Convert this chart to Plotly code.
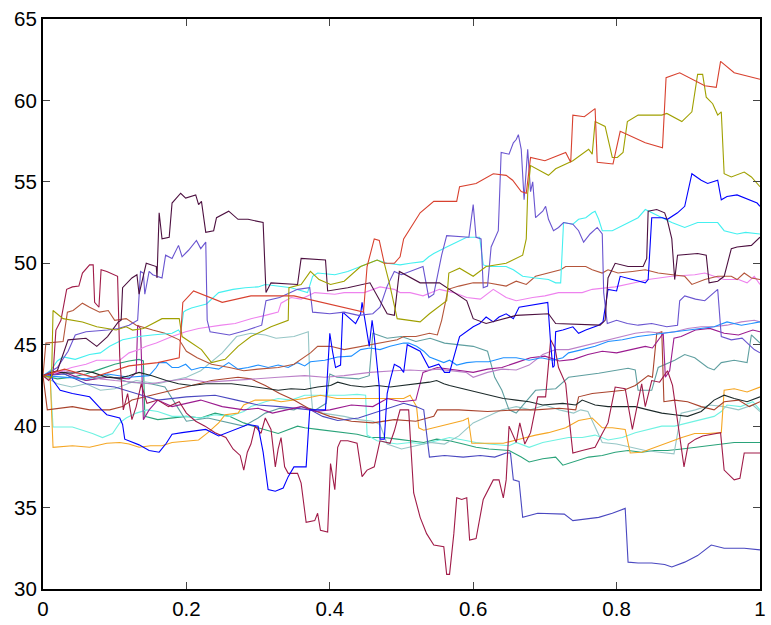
import plotly.graph_objects as go

# ---- data: each path is a list of (t, value) vertices ----
red_path = [(0,43.1),(0.03,43.5),(0.07,43.0),(0.12,43.7),(0.16,43.9),(0.19,44.2),(0.195,47.6),(0.21,48.3),(0.25,47.6),(0.29,48.0),(0.35,48.0),(0.40,47.5),(0.43,47.2),(0.447,47.0),(0.452,49.8),(0.462,51.5),(0.469,51.4),(0.476,50.0),(0.49,50.0),(0.498,50.4),(0.503,51.5),(0.526,53.1),(0.545,53.8),(0.577,53.8),(0.581,54.7),(0.604,54.9),(0.628,55.5),(0.646,55.4),(0.655,55.1),(0.667,54.4),(0.674,54.3),(0.68,56.5),(0.70,56.3),(0.729,56.8),(0.736,56.2),(0.739,59.1),(0.755,59.0),(0.770,59.5),(0.773,56.2),(0.795,56.1),(0.805,58.1),(0.84,57.4),(0.864,57.1),(0.869,61.4),(0.888,61.7),(0.923,60.9),(0.939,60.8),(0.945,62.4),(0.964,61.7),(1.0,61.3)]

olive_path = [(0,43.1),(0.012,43.0),(0.014,47.1),(0.028,46.6),(0.055,46.4),(0.075,46.1),(0.102,45.9),(0.116,46.1),(0.125,45.9),(0.14,46.0),(0.166,46.6),(0.19,46.6),(0.194,45.5),(0.221,44.7),(0.235,43.9),(0.254,44.1),(0.272,44.9),(0.29,45.5),(0.318,46.1),(0.342,46.5),(0.343,48.5),(0.36,48.7),(0.373,49.5),(0.385,49.0),(0.401,48.7),(0.42,48.9),(0.443,49.8),(0.466,50.2),(0.476,50.0),(0.483,48.8),(0.49,47.4),(0.494,46.6),(0.526,46.4),(0.539,46.9),(0.563,47.7),(0.566,49.4),(0.581,49.7),(0.600,49.2),(0.618,49.8),(0.646,50.0),(0.669,50.5),(0.674,51.5),(0.676,54.3),(0.680,56.0),(0.705,55.4),(0.715,55.8),(0.739,56.3),(0.761,57.0),(0.766,56.7),(0.770,58.7),(0.784,58.4),(0.794,56.5),(0.801,56.5),(0.809,56.8),(0.815,58.7),(0.830,59.1),(0.863,59.1),(0.870,59.2),(0.891,58.7),(0.905,59.3),(0.913,61.6),(0.920,61.6),(0.925,60.2),(0.934,59.8),(0.941,59.1),(0.946,59.3),(0.950,55.5),(0.960,55.3),(0.978,55.6),(0.988,55.3),(1.0,54.7)]

plum_path = [(0,43.1),(0.02,43.4),(0.035,45.3),(0.06,45.4),(0.075,44.9),(0.09,45.5),(0.105,46.4),(0.109,46.5),(0.111,48.5),(0.124,49.1),(0.131,49.3),(0.134,48.1),(0.144,50.0),(0.158,49.8),(0.159,49.1),(0.162,53.1),(0.166,51.5),(0.176,51.6),(0.180,53.7),(0.192,54.3),(0.199,54.0),(0.213,54.2),(0.217,53.6),(0.221,53.8),(0.227,51.9),(0.238,52.0),(0.242,52.8),(0.259,53.2),(0.272,52.7),(0.286,52.7),(0.307,52.5),(0.311,48.2),(0.318,48.8),(0.355,48.7),(0.360,50.3),(0.394,50.2),(0.397,48.3),(0.425,48.5),(0.456,48.8),(0.480,46.9),(0.490,46.8),(0.497,49.5),(0.526,48.8),(0.553,48.8),(0.591,47.7),(0.600,46.6),(0.618,46.3),(0.660,46.8),(0.705,46.9),(0.715,46.3),(0.777,46.2),(0.784,46.5),(0.788,49.1),(0.798,50.0),(0.816,49.8),(0.837,49.8),(0.842,50.3),(0.844,53.2),(0.856,53.3),(0.867,53.1),(0.871,52.6),(0.877,51.5),(0.881,49.0),(0.885,50.5),(0.913,50.6),(0.925,50.5),(0.929,48.8),(0.941,48.9),(0.950,49.2),(0.960,50.9),(0.968,51.0),(0.988,51.1),(1.0,51.6)]

slate_path = [(0,43.1),(0.02,43.6),(0.035,44.6),(0.045,45.6),(0.06,45.8),(0.09,45.9),(0.105,46.0),(0.12,46.2),(0.132,46.5),(0.136,49.5),(0.14,49.4),(0.142,48.1),(0.148,49.5),(0.153,49.3),(0.166,49.1),(0.171,50.5),(0.180,50.3),(0.189,51.1),(0.194,50.4),(0.203,50.8),(0.214,51.4),(0.220,50.9),(0.227,51.3),(0.229,46.5),(0.233,45.8),(0.26,45.6),(0.285,45.9),(0.305,46.2),(0.311,47.7),(0.33,47.9),(0.355,48.4),(0.372,48.5),(0.376,47.0),(0.40,46.9),(0.42,47.0),(0.44,46.8),(0.46,46.9),(0.47,47.3),(0.48,48.6),(0.49,49.5),(0.50,49.3),(0.53,49.8),(0.538,47.9),(0.545,48.1),(0.556,50.5),(0.563,51.7),(0.594,51.6),(0.600,53.6),(0.604,51.6),(0.611,51.5),(0.614,48.5),(0.620,48.6),(0.625,51.0),(0.635,52.0),(0.639,56.8),(0.650,56.7),(0.656,57.4),(0.660,57.6),(0.663,57.9),(0.667,57.0),(0.671,53.9),(0.676,57.0),(0.680,54.4),(0.683,55.0),(0.687,52.8),(0.697,53.2),(0.701,53.5),(0.705,52.7),(0.712,52.0),(0.719,52.2),(0.726,52.5),(0.739,52.4),(0.747,52.0),(0.754,51.3),(0.763,51.8),(0.773,52.2),(0.780,51.8),(0.782,48.2),(0.787,46.3),(0.80,46.5),(0.815,46.3),(0.830,46.2),(0.849,46.3),(0.87,46.1),(0.885,46.2),(0.888,47.7),(0.895,48.0),(0.910,47.8),(0.923,47.7),(0.934,48.1),(0.941,48.4),(0.946,45.5),(0.960,45.3),(0.975,45.4),(0.992,44.7),(1.0,44.5)]

blue_path = [(0,43.1),(0.01,43.2),(0.014,42.8),(0.024,42.2),(0.041,42.0),(0.065,41.8),(0.082,41.0),(0.089,40.7),(0.107,40.5),(0.111,40.1),(0.114,39.2),(0.134,38.85),(0.148,38.5),(0.162,38.4),(0.172,38.95),(0.180,39.5),(0.194,39.6),(0.227,39.8),(0.245,39.4),(0.268,39.8),(0.286,40.1),(0.30,40.0),(0.307,38.4),(0.314,36.1),(0.324,36.0),(0.335,36.2),(0.342,36.9),(0.35,37.5),(0.367,37.5),(0.372,41.0),(0.394,41.0),(0.397,43.4),(0.400,45.7),(0.404,44.55),(0.408,43.6),(0.415,43.75),(0.418,47.0),(0.436,46.3),(0.443,46.9),(0.445,47.6),(0.448,46.8),(0.450,46.5),(0.455,44.9),(0.459,46.5),(0.462,45.5),(0.469,42.4),(0.470,39.2),(0.476,39.2),(0.480,42.0),(0.484,42.8),(0.490,43.8),(0.498,43.6),(0.503,43.3),(0.508,45.0),(0.526,44.6),(0.538,43.6),(0.552,43.8),(0.560,43.3),(0.567,43.3),(0.581,45.5),(0.591,45.8),(0.600,46.1),(0.609,46.3),(0.618,46.7),(0.628,46.4),(0.636,46.7),(0.646,46.9),(0.656,46.6),(0.664,47.3),(0.692,47.5),(0.704,47.6),(0.708,45.1),(0.711,43.6),(0.713,43.7),(0.715,45.8),(0.725,45.9),(0.739,46.1),(0.747,45.7),(0.757,45.9),(0.775,46.2),(0.781,46.4),(0.788,48.4),(0.80,48.3),(0.805,49.2),(0.822,49.0),(0.840,48.8),(0.844,49.0),(0.849,52.8),(0.864,52.8),(0.871,52.7),(0.885,53.1),(0.895,53.5),(0.905,55.5),(0.918,55.1),(0.927,54.9),(0.941,55.1),(0.946,53.9),(0.954,54.1),(0.968,54.2),(0.996,53.7),(1.0,53.5)]

cyan_path = [(0,43.1),(0.01,43.4),(0.02,44.0),(0.028,44.25),(0.045,44.1),(0.065,44.4),(0.08,44.5),(0.093,44.9),(0.111,45.3),(0.134,45.5),(0.152,45.6),(0.180,45.7),(0.189,45.9),(0.192,45.7),(0.196,47.0),(0.199,47.1),(0.207,47.25),(0.228,47.5),(0.245,48.2),(0.265,48.4),(0.282,48.5),(0.300,48.55),(0.310,48.7),(0.33,48.6),(0.346,48.5),(0.369,48.2),(0.376,49.2),(0.383,49.4),(0.407,49.3),(0.425,49.5),(0.443,49.8),(0.466,50.2),(0.480,50.0),(0.498,49.9),(0.512,50.0),(0.53,50.1),(0.538,50.4),(0.545,50.6),(0.563,51.0),(0.577,51.3),(0.591,51.6),(0.609,51.6),(0.614,49.9),(0.622,49.8),(0.636,49.8),(0.646,49.8),(0.656,49.6),(0.669,49.2),(0.687,49.1),(0.705,49.0),(0.715,48.8),(0.722,48.8),(0.726,52.5),(0.739,52.4),(0.747,52.7),(0.757,52.8),(0.766,53.1),(0.770,53.2),(0.775,52.7),(0.780,52.0),(0.794,52.0),(0.816,52.5),(0.830,52.8),(0.840,53.3),(0.849,53.1),(0.863,52.8),(0.877,52.5),(0.895,52.2),(0.913,52.5),(0.941,52.5),(0.950,52.0),(0.968,51.8),(0.98,51.9),(1.0,51.8)]

pink_path = [(0,43.1),(0.02,43.3),(0.04,43.6),(0.06,43.8),(0.075,44.05),(0.107,44.05),(0.120,44.5),(0.134,44.7),(0.144,44.9),(0.158,45.1),(0.18,45.5),(0.199,45.8),(0.217,46.0),(0.231,46.1),(0.249,46.2),(0.268,46.3),(0.290,46.6),(0.310,46.8),(0.328,47.0),(0.332,47.55),(0.346,47.9),(0.36,47.8),(0.379,48.2),(0.407,48.1),(0.420,48.2),(0.448,48.2),(0.470,48.55),(0.49,48.4),(0.498,48.2),(0.512,48.2),(0.53,48.0),(0.553,48.4),(0.573,48.2),(0.591,47.9),(0.61,47.8),(0.628,48.4),(0.646,47.9),(0.66,47.7),(0.683,47.9),(0.70,48.0),(0.719,48.2),(0.752,48.2),(0.766,48.4),(0.798,48.55),(0.816,48.7),(0.830,48.85),(0.844,49.0),(0.863,49.1),(0.877,49.2),(0.909,49.3),(0.923,49.4),(0.936,49.2),(0.950,49.0),(0.97,49.0),(0.982,48.8),(0.992,49.2),(1.0,48.7)]

brown_path = [(0,43.1),(0.004,45.1),(0.028,45.2),(0.034,47.0),(0.042,47.1),(0.055,47.55),(0.065,47.3),(0.079,47.0),(0.091,47.1),(0.1,46.5),(0.116,46.6),(0.13,46.2),(0.153,45.9),(0.17,45.7),(0.19,45.3),(0.2,44.6),(0.215,44.2),(0.235,43.8),(0.26,43.6),(0.28,43.4),(0.30,43.5),(0.328,43.6),(0.35,43.8),(0.373,44.5),(0.383,44.9),(0.401,44.9),(0.42,44.7),(0.443,44.9),(0.466,45.1),(0.494,45.3),(0.503,45.5),(0.52,45.5),(0.539,45.7),(0.55,45.6),(0.556,46.5),(0.565,48.4),(0.58,48.6),(0.60,48.8),(0.62,48.8),(0.646,48.6),(0.660,48.9),(0.674,48.7),(0.687,49.2),(0.705,49.4),(0.722,49.6),(0.729,49.8),(0.757,49.8),(0.766,49.6),(0.780,49.4),(0.788,49.6),(0.802,49.4),(0.822,49.5),(0.840,49.6),(0.858,49.4),(0.877,49.3),(0.895,49.2),(0.905,48.7),(0.923,49.0),(0.941,49.2),(0.960,49.2),(0.968,49.0),(0.978,49.4),(0.988,49.1),(1.0,49.0)]

dodger_path = [(0,43.1),(0.03,43.0),(0.06,42.9),(0.09,43.2),(0.12,43.0),(0.148,43.1),(0.158,43.6),(0.162,43.9),(0.172,43.9),(0.180,43.6),(0.189,43.6),(0.199,43.8),(0.207,43.45),(0.22,43.6),(0.231,43.6),(0.245,43.5),(0.259,43.9),(0.272,43.5),(0.286,43.6),(0.300,43.75),(0.314,43.6),(0.328,43.75),(0.342,43.6),(0.355,43.9),(0.365,43.7),(0.373,43.95),(0.393,44.05),(0.411,44.25),(0.43,44.3),(0.443,44.7),(0.456,44.8),(0.47,44.7),(0.484,44.9),(0.503,45.1),(0.51,45.1),(0.521,44.9),(0.531,44.6),(0.539,44.25),(0.549,44.05),(0.559,43.9),(0.567,44.05),(0.577,43.75),(0.591,43.9),(0.604,43.95),(0.622,43.95),(0.642,44.2),(0.660,44.2),(0.678,44.05),(0.695,44.2),(0.711,44.05),(0.725,44.2),(0.733,44.5),(0.752,44.7),(0.770,44.9),(0.788,45.2),(0.808,45.3),(0.830,45.5),(0.849,45.6),(0.863,45.7),(0.881,45.8),(0.899,45.9),(0.918,46.0),(0.936,46.1),(0.954,46.4),(0.974,46.2),(0.988,46.3),(1.0,46.4)]

orchid_path = [(0,43.1),(0.03,43.4),(0.05,43.2),(0.08,42.9),(0.1,42.8),(0.13,42.7),(0.15,42.6),(0.18,42.8),(0.2,42.9),(0.23,42.7),(0.26,42.8),(0.3,42.9),(0.328,43.0),(0.365,43.1),(0.393,43.0),(0.42,43.1),(0.456,43.3),(0.49,43.4),(0.512,43.45),(0.53,43.4),(0.55,43.5),(0.59,43.3),(0.6,43.0),(0.62,43.3),(0.64,43.5),(0.66,43.45),(0.678,43.75),(0.697,44.4),(0.715,44.7),(0.733,44.7),(0.752,44.9),(0.770,45.1),(0.788,45.3),(0.808,45.5),(0.826,45.7),(0.844,45.8),(0.863,45.7),(0.881,45.8),(0.899,46.0),(0.918,46.1),(0.936,46.1),(0.954,46.2),(0.974,46.4),(0.992,46.5),(1.0,46.4)]

magenta_path = [(0,43.1),(0.03,43.3),(0.06,42.8),(0.09,43.0),(0.12,42.9),(0.13,43.3),(0.132,46.2),(0.136,46.0),(0.14,40.4),(0.148,41.0),(0.16,41.6),(0.18,41.2),(0.2,41.4),(0.22,41.6),(0.25,41.2),(0.28,41.0),(0.3,41.1),(0.32,40.8),(0.34,41.0),(0.36,41.2),(0.38,40.9),(0.40,41.0),(0.43,41.3),(0.46,41.2),(0.48,41.7),(0.5,41.5),(0.52,41.6),(0.53,43.3),(0.55,43.6),(0.58,43.4),(0.60,43.3),(0.62,43.5),(0.64,43.6),(0.66,43.9),(0.68,44.2),(0.70,44.3),(0.72,44.0),(0.74,44.1),(0.76,44.4),(0.78,44.6),(0.80,44.5),(0.82,44.7),(0.84,44.9),(0.85,44.8),(0.858,45.3),(0.865,45.7),(0.868,43.0),(0.874,43.4),(0.88,45.4),(0.89,45.5),(0.91,45.9),(0.93,46.0),(0.95,45.7),(0.97,45.6),(0.99,45.9),(1.0,45.8)]

cadet_path = [(0,43.1),(0.02,43.4),(0.04,43.0),(0.06,42.8),(0.09,43.1),(0.12,42.7),(0.15,42.6),(0.17,42.4),(0.19,41.0),(0.2,40.3),(0.23,40.5),(0.26,40.2),(0.28,40.0),(0.30,40.5),(0.31,40.8),(0.33,41.1),(0.35,41.0),(0.36,41.2),(0.38,41.0),(0.395,41.4),(0.40,43.2),(0.41,43.0),(0.44,42.9),(0.455,43.1),(0.46,45.7),(0.48,45.4),(0.50,45.5),(0.52,45.2),(0.54,45.4),(0.56,45.1),(0.58,45.0),(0.60,44.9),(0.62,44.6),(0.63,43.0),(0.64,42.2),(0.65,41.0),(0.66,40.8),(0.687,42.2),(0.715,42.3),(0.733,43.0),(0.775,43.25),(0.816,43.55),(0.826,43.45),(0.830,42.2),(0.849,42.2),(0.858,43.6),(0.881,44.05),(0.895,44.4),(0.909,44.2),(0.927,43.6),(0.936,43.45),(0.946,43.9),(0.964,44.05),(0.982,43.9),(0.988,45.6),(1.0,45.1)]

lightcadet_path = [(0,43.1),(0.02,42.6),(0.04,42.4),(0.06,42.6),(0.08,42.2),(0.1,42.3),(0.13,42.8),(0.16,42.6),(0.2,43.0),(0.22,43.4),(0.25,44.5),(0.27,45.5),(0.29,45.7),(0.31,45.6),(0.325,45.4),(0.35,45.5),(0.37,45.8),(0.372,43.0),(0.376,41.0),(0.39,40.8),(0.42,40.6),(0.44,40.4),(0.46,40.3),(0.47,40.1),(0.48,38.9),(0.50,38.6),(0.52,38.8),(0.54,39.0),(0.56,38.9),(0.58,39.4),(0.60,40.2),(0.62,40.6),(0.64,41.0),(0.66,41.2),(0.68,41.0),(0.70,41.3),(0.72,41.0),(0.74,40.8),(0.75,41.0),(0.76,40.9),(0.78,39.0),(0.80,38.9),(0.82,38.7),(0.84,38.5),(0.86,38.4),(0.88,38.3),(0.89,40.8),(0.91,41.0),(0.93,41.3),(0.95,41.2),(0.97,41.0),(0.99,41.3),(1.0,40.9)]

orange_path = [(0,43.1),(0.01,43.0),(0.014,38.7),(0.041,38.8),(0.065,38.7),(0.089,38.95),(0.107,39.0),(0.12,38.9),(0.134,38.7),(0.15,38.8),(0.166,38.8),(0.180,39.0),(0.217,39.15),(0.23,39.6),(0.245,40.2),(0.254,40.7),(0.272,40.8),(0.28,41.3),(0.296,41.6),(0.32,41.6),(0.332,41.5),(0.365,41.7),(0.387,41.9),(0.41,41.7),(0.448,41.7),(0.476,41.7),(0.503,41.7),(0.512,41.9),(0.521,41.2),(0.524,39.9),(0.531,39.75),(0.545,39.9),(0.559,40.05),(0.573,40.2),(0.586,40.35),(0.593,40.5),(0.598,38.95),(0.614,38.95),(0.642,38.95),(0.660,39.15),(0.687,39.45),(0.705,39.6),(0.729,39.9),(0.747,40.35),(0.766,40.5),(0.780,39.9),(0.794,39.9),(0.812,39.8),(0.819,38.35),(0.835,38.4),(0.853,38.7),(0.871,39.0),(0.891,39.3),(0.909,39.55),(0.927,39.55),(0.946,39.6),(0.950,42.2),(0.964,42.3),(0.982,42.1),(1.0,42.4)]

black_path = [(0,43.1),(0.012,43.3),(0.024,43.3),(0.041,43.25),(0.055,43.4),(0.069,43.3),(0.089,43.0),(0.107,42.95),(0.12,43.1),(0.134,43.3),(0.152,43.1),(0.172,42.8),(0.189,42.6),(0.207,42.5),(0.227,42.6),(0.245,42.6),(0.263,42.6),(0.282,42.5),(0.300,42.4),(0.328,42.2),(0.346,42.3),(0.365,42.25),(0.383,42.4),(0.401,42.5),(0.411,42.7),(0.429,42.5),(0.448,42.4),(0.466,42.5),(0.484,42.4),(0.503,42.5),(0.521,42.6),(0.539,42.7),(0.549,42.8),(0.559,42.6),(0.567,42.5),(0.586,42.3),(0.604,42.1),(0.622,41.9),(0.642,41.7),(0.660,41.6),(0.678,41.5),(0.697,41.3),(0.725,41.4),(0.743,41.3),(0.752,41.6),(0.770,41.3),(0.788,41.2),(0.808,41.2),(0.826,41.2),(0.844,41.0),(0.863,40.8),(0.881,40.7),(0.899,40.6),(0.918,40.9),(0.936,41.6),(0.950,41.9),(0.964,41.7),(0.982,41.5),(1.0,41.8)]

sienna_path = [(0,43.1),(0.006,41.0),(0.041,41.2),(0.065,41.0),(0.093,41.0),(0.111,41.2),(0.124,41.6),(0.144,41.8),(0.162,42.0),(0.18,42.2),(0.199,42.4),(0.235,42.8),(0.272,43.0),(0.29,42.9),(0.31,42.5),(0.33,42.0),(0.35,41.6),(0.37,41.1),(0.40,40.6),(0.43,40.3),(0.46,40.2),(0.49,40.4),(0.52,40.3),(0.545,40.6),(0.55,41.0),(0.58,41.0),(0.62,40.9),(0.66,41.0),(0.687,41.0),(0.72,41.1),(0.743,41.0),(0.747,41.8),(0.766,42.0),(0.788,42.1),(0.81,42.2),(0.826,42.5),(0.844,43.1),(0.85,43.0),(0.856,45.7),(0.863,45.8),(0.866,41.5),(0.881,41.6),(0.899,41.5),(0.918,41.2),(0.936,41.0),(0.95,41.5),(0.97,41.6),(0.985,41.2),(1.0,41.5)]

crimson_path = [(0,43.1),(0.008,42.8),(0.014,43.2),(0.018,45.9),(0.025,46.5),(0.033,48.4),(0.041,48.55),(0.05,48.6),(0.055,49.4),(0.065,49.9),(0.07,49.9),(0.072,47.6),(0.078,47.3),(0.081,49.6),(0.089,49.5),(0.1,49.3),(0.104,49.2),(0.107,44.3),(0.112,41.0),(0.118,42.0),(0.124,40.4),(0.13,41.2),(0.137,42.6),(0.145,41.4),(0.16,41.6),(0.175,41.2),(0.19,41.5),(0.2,40.8),(0.213,40.3),(0.226,40.0),(0.24,39.6),(0.255,39.3),(0.265,38.6),(0.275,38.2),(0.28,37.3),(0.285,38.4),(0.29,38.9),(0.296,40.0),(0.304,39.55),(0.31,40.5),(0.318,39.8),(0.324,37.5),(0.328,38.6),(0.332,39.3),(0.337,37.5),(0.342,37.1),(0.355,37.1),(0.360,36.5),(0.367,34.1),(0.379,34.2),(0.383,34.65),(0.387,33.6),(0.397,33.5),(0.401,37.7),(0.407,36.1),(0.411,38.7),(0.415,39.1),(0.425,39.1),(0.438,38.95),(0.445,36.9),(0.452,37.3),(0.462,37.5),(0.470,39.1),(0.484,38.95),(0.49,39.7),(0.498,41.0),(0.51,41.0),(0.513,38.8),(0.517,35.9),(0.526,34.4),(0.535,33.4),(0.545,32.7),(0.559,32.6),(0.563,30.9),(0.567,30.9),(0.573,33.4),(0.577,35.6),(0.584,35.5),(0.591,35.6),(0.595,33.0),(0.604,33.1),(0.614,35.5),(0.628,36.7),(0.636,36.7),(0.642,35.6),(0.646,36.7),(0.650,40.0),(0.66,39.0),(0.665,40.2),(0.672,38.9),(0.68,39.6),(0.69,41.8),(0.701,41.8),(0.708,45.3),(0.714,44.8),(0.719,43.6),(0.729,42.6),(0.733,40.8),(0.739,38.35),(0.752,38.5),(0.770,38.7),(0.780,39.55),(0.788,40.2),(0.798,42.4),(0.812,42.3),(0.822,39.8),(0.835,42.6),(0.840,41.2),(0.849,42.8),(0.86,42.7),(0.871,43.4),(0.878,42.5),(0.885,40.3),(0.891,38.7),(0.894,37.5),(0.90,38.9),(0.91,39.2),(0.92,39.4),(0.936,39.55),(0.945,39.6),(0.95,37.3),(0.964,36.7),(0.972,36.8),(0.978,38.35),(1.0,38.35)]

slate2_path = [(0,43.1),(0.03,43.2),(0.06,42.6),(0.1,42.4),(0.13,42.0),(0.16,41.6),(0.2,41.8),(0.24,41.9),(0.27,41.6),(0.3,41.3),(0.33,41.2),(0.373,41.0),(0.39,40.6),(0.411,40.35),(0.44,40.5),(0.476,41.0),(0.503,41.4),(0.52,41.2),(0.531,41.0),(0.539,38.1),(0.56,38.2),(0.586,38.1),(0.61,38.2),(0.63,38.1),(0.646,38.35),(0.652,38.35),(0.656,36.7),(0.664,36.6),(0.669,34.4),(0.69,34.65),(0.727,34.6),(0.739,34.2),(0.757,34.3),(0.775,34.4),(0.794,34.65),(0.805,34.85),(0.812,34.95),(0.816,31.65),(0.830,31.6),(0.849,31.6),(0.867,31.5),(0.877,31.35),(0.895,31.65),(0.913,32.05),(0.932,32.7),(0.950,32.5),(0.978,32.5),(1.0,32.4)]

green_path = [(0,43.1),(0.02,42.9),(0.04,43.0),(0.06,43.2),(0.08,43.5),(0.1,43.8),(0.12,44.0),(0.134,44.1),(0.14,44.0),(0.142,40.6),(0.16,40.4),(0.18,40.5),(0.2,40.6),(0.22,40.5),(0.24,40.8),(0.26,40.6),(0.28,40.2),(0.30,39.9),(0.328,39.55),(0.355,40.0),(0.365,39.9),(0.383,39.8),(0.401,39.7),(0.420,39.6),(0.438,39.5),(0.456,39.3),(0.476,39.3),(0.494,39.2),(0.512,39.1),(0.531,39.0),(0.549,39.2),(0.567,39.1),(0.586,38.9),(0.604,38.7),(0.622,38.6),(0.650,38.5),(0.667,38.1),(0.678,37.8),(0.697,38.0),(0.715,38.1),(0.725,37.6),(0.743,37.85),(0.761,38.1),(0.780,38.2),(0.798,38.4),(0.816,38.5),(0.835,38.4),(0.853,38.5),(0.871,38.5),(0.891,38.6),(0.909,38.7),(0.927,38.8),(0.946,38.9),(0.964,39.0),(0.982,39.0),(1.0,39.0)]

aqua_path = [(0,43.1),(0.01,43.0),(0.014,39.95),(0.041,39.95),(0.055,39.75),(0.069,39.55),(0.083,39.3),(0.097,39.55),(0.107,40.2),(0.116,40.5),(0.13,40.8),(0.145,41.0),(0.16,40.9),(0.18,40.6),(0.2,40.6),(0.22,40.5),(0.24,40.7),(0.26,40.6),(0.28,40.9),(0.29,41.2),(0.31,41.5),(0.328,41.7),(0.346,41.6),(0.365,41.9),(0.393,41.9),(0.420,41.9),(0.438,41.95),(0.450,41.9),(0.452,39.45),(0.466,39.1),(0.48,39.0),(0.494,38.9),(0.512,39.0),(0.531,38.9),(0.549,39.1),(0.567,39.3),(0.586,39.15),(0.604,39.0),(0.622,38.9),(0.650,38.8),(0.660,39.0),(0.678,38.7),(0.697,39.0),(0.715,39.15),(0.733,39.3),(0.752,39.3),(0.770,39.45),(0.788,39.15),(0.808,39.3),(0.826,39.6),(0.844,39.8),(0.863,40.0),(0.881,40.0),(0.899,40.2),(0.918,40.4),(0.936,40.6),(0.946,40.9),(0.954,41.3),(0.973,41.2),(0.99,41.5),(1.0,41.0)]

x_tick_vals = [0, 0.2, 0.4, 0.6, 0.8, 1]
x_tick_text = ["0", "0.2", "0.4", "0.6", "0.8", "1"]
y_tick_vals = [30, 35, 40, 45, 50, 55, 60, 65]

# ---- styles ----
series = [
    (green_path, "#2aa37a"),
    (aqua_path, "#6ff2e2"),
    (lightcadet_path, "#96c6c6"),
    (cadet_path, "#5f9fa0"),
    (orange_path, "#f5a623"),
    (sienna_path, "#a9432c"),
    (slate2_path, "#4a48c0"),
    (magenta_path, "#9b1b8f"),
    (orchid_path, "#bb80c8"),
    (dodger_path, "#1e90ff"),
    (black_path, "#1c2a2a"),
    (pink_path, "#ee82ee"),
    (brown_path, "#b4553a"),
    (cyan_path, "#44f0f0"),
    (crimson_path, "#a01b48"),
    (blue_path, "#0000ff"),
    (slate_path, "#6a55d0"),
    (plum_path, "#4d1040"),
    (olive_path, "#a0a000"),
    (red_path, "#d8412f"),
]

fig = go.Figure()
for path, color in series:
    fig.add_trace(go.Scatter(
        x=[p[0] for p in path], y=[p[1] for p in path],
        mode="lines", line=dict(color=color, width=1.1),
        hoverinfo="skip", showlegend=False))

axis_common = dict(
    showline=True, linecolor="black", linewidth=2, mirror="ticks",
    ticks="inside", ticklen=7, tickwidth=1, tickcolor="#444",
    showgrid=False, zeroline=False,
    tickfont=dict(family="Liberation Sans, Arial, sans-serif", size=20.5, color="black"),
)

fig.update_layout(
    width=771, height=625,
    margin=dict(l=43, r=5, t=19, b=36),
    plot_bgcolor="white", paper_bgcolor="white",
    showlegend=False,
    xaxis=dict(range=[0, 1], tickvals=x_tick_vals, ticktext=x_tick_text, **axis_common),
    yaxis=dict(range=[30, 65], tickvals=y_tick_vals, **axis_common),
)

fig.write_html("out.html")
